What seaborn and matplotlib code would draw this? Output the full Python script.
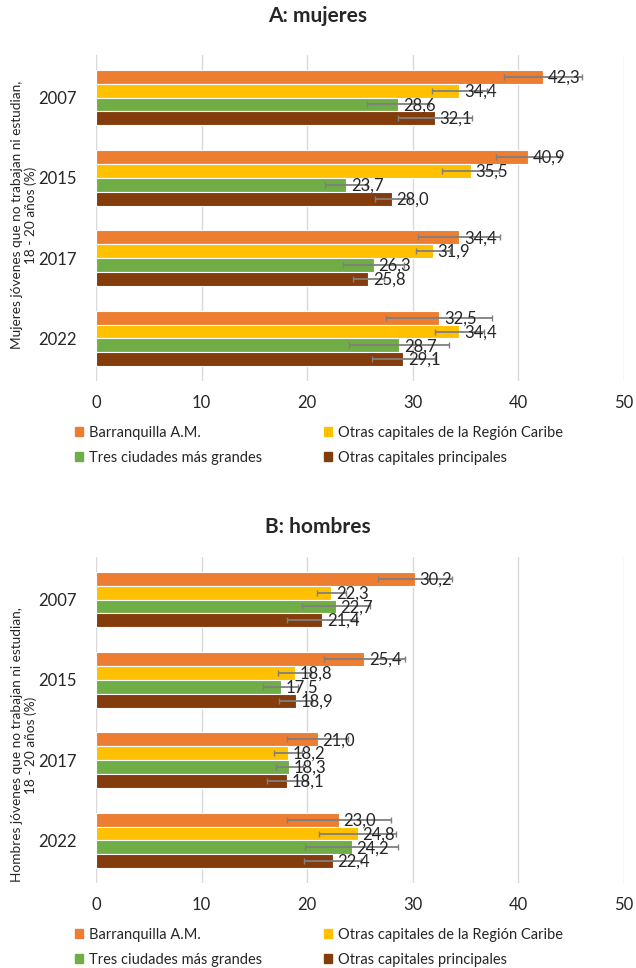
import matplotlib
matplotlib.use("Agg")
import matplotlib.pyplot as plt
from matplotlib.patches import Patch
import seaborn as sns
import pandas as pd

# categories
years = ["2007", "2015", "2017", "2022"]
groups = ["Barranquilla A.M.", "Otras capitales de la Región Caribe",
          "Tres ciudades más grandes", "Otras capitales principales"]
colors = ["#ED7D31", "#FFC000", "#70AD47", "#843C0C"]

# A: mujeres (values per group, one per year)
muj_barranquilla = [42.3, 40.9, 34.4, 32.5]
muj_caribe = [34.4, 35.5, 31.9, 34.4]
muj_tres = [28.6, 23.7, 26.3, 28.7]
muj_principales = [32.1, 28.0, 25.8, 29.1]
# half-width of the confidence intervals
muj_err_barranquilla = [3.7, 3.0, 3.9, 5.0]
muj_err_caribe = [2.6, 2.7, 1.6, 2.3]
muj_err_tres = [2.9, 2.0, 2.9, 4.7]
muj_err_principales = [3.5, 1.6, 1.5, 3.0]

# B: hombres
hom_barranquilla = [30.2, 25.4, 21.0, 23.0]
hom_caribe = [22.3, 18.8, 18.2, 24.8]
hom_tres = [22.7, 17.5, 18.3, 24.2]
hom_principales = [21.4, 18.9, 18.1, 22.4]
hom_err_barranquilla = [3.5, 3.85, 2.9, 4.9]
hom_err_caribe = [1.4, 1.55, 1.3, 3.65]
hom_err_tres = [3.2, 1.65, 1.3, 4.4]
hom_err_principales = [3.3, 1.6, 1.9, 2.7]

x_ticks = [0, 10, 20, 30, 40, 50]

sns.set_theme(style="white")
plt.rcParams["font.family"] = ["Lato", "DejaVu Sans"]


def long_table(series):
    rows = []
    for g, vals in zip(groups, series):
        for y, v in zip(years, vals):
            rows.append({"year": y, "group": g, "value": v})
    return pd.DataFrame(rows)


def draw_panel(ax, series, errors, ylabel, ylabel_y):
    df = long_table(series)
    sns.barplot(data=df, x="value", y="year", hue="group", order=years,
                hue_order=groups, palette=colors, orient="h", width=0.69,
                saturation=1, errorbar=None, edgecolor="white", linewidth=0.8,
                legend=False, ax=ax)
    for cont, errs in zip(ax.containers, errors):
        ys = [p.get_y() + p.get_height() / 2 for p in cont]
        xs = [p.get_width() for p in cont]
        ax.errorbar(xs, ys, xerr=errs, fmt="none", ecolor="#7f7f7f",
                    elinewidth=1.3, capsize=2.2, capthick=1.0, zorder=3)
        for x, y in zip(xs, ys):
            ax.text(x + 0.45, y + 0.01, f"{x:.1f}".replace(".", ","),
                    fontsize=12, va="center", ha="left", color="#262626",
                    zorder=4)
    ax.set_xlim(0, 50)
    ax.set_xticks(x_ticks)
    ax.set_xticklabels([str(t) for t in x_ticks])
    ax.xaxis.grid(True, color="#d9d9d9", linewidth=1.0)
    ax.set_axisbelow(True)
    for s in ax.spines.values():
        s.set_visible(False)
    ax.tick_params(axis="x", length=0, pad=10, labelsize=12, labelcolor="#262626")
    ax.tick_params(axis="y", length=0, pad=14, labelsize=12, labelcolor="#262626")
    ax.set_xlabel("")
    ax.set_ylabel("")
    fig.text(24 / 636, ylabel_y, ylabel, rotation=90, ha="center",
             va="center", fontsize=9.8, color="#262626", linespacing=1.2)
    handles = [Patch(color=colors[i], label=groups[i]) for i in (0, 2, 1, 3)]
    ax.legend(handles=handles, ncol=2, loc="upper left",
              bbox_to_anchor=(-0.04, -0.137), frameon=False, fontsize=10.5,
              handlelength=0.55, handleheight=0.55, handletextpad=0.45,
              columnspacing=4.2, labelspacing=0.76, borderpad=0,
              borderaxespad=0)


fig = plt.figure(figsize=(6.36, 9.68), dpi=100)
ax_top = fig.add_axes([96 / 636, 1 - 381 / 968, 528 / 636, 326 / 968])
ax_bot = fig.add_axes([96 / 636, 1 - 883 / 968, 528 / 636, 326 / 968])

draw_panel(ax_top,
           [muj_barranquilla, muj_caribe, muj_tres, muj_principales],
           [muj_err_barranquilla, muj_err_caribe, muj_err_tres, muj_err_principales],
           "Mujeres jóvenes que no trabajan ni estudian,\n18 - 20 años (%)",
           1 - 215 / 968)
draw_panel(ax_bot,
           [hom_barranquilla, hom_caribe, hom_tres, hom_principales],
           [hom_err_barranquilla, hom_err_caribe, hom_err_tres, hom_err_principales],
           "Hombres jóvenes que no trabajan ni estudian,\n18 - 20 años (%)",
           1 - 745 / 968)

fig.text(0.5, 1 - 16 / 968, "A: mujeres", ha="center", va="center",
         fontsize=15, fontweight="bold", color="#262626")
fig.text(0.5, 1 - 527 / 968, "B: hombres", ha="center", va="center",
         fontsize=15, fontweight="bold", color="#262626")

fig.savefig("out.png", dpi=100)
